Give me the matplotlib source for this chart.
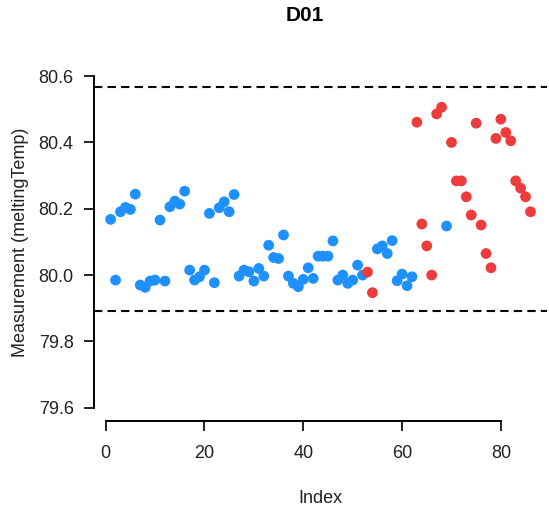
import matplotlib
matplotlib.use('Agg')
from matplotlib import pyplot as plt
import numpy as np

plt.rcParams['font.family'] = ['Liberation Sans', 'DejaVu Sans']

# melting temperature per run, in run order
melt_temp = [
    80.168, 79.985, 80.191, 80.204, 80.198, 80.244, 79.970, 79.963, 79.982, 79.985,
    80.166, 79.982, 80.206, 80.223, 80.214, 80.253, 80.015, 79.985, 79.995, 80.015,
    80.186, 79.977, 80.203, 80.221, 80.191, 80.243, 79.997, 80.015, 80.010, 79.982,
    80.020, 79.997, 80.090, 80.053, 80.050, 80.121, 79.997, 79.975, 79.965, 79.987,
    80.022, 79.990, 80.057, 80.057, 80.057, 80.103, 79.985, 80.000, 79.975, 79.985,
    80.030, 80.000, 80.009, 79.947, 80.079, 80.088, 80.065, 80.104, 79.983, 80.003,
    79.968, 79.995, 80.461, 80.154, 80.088, 80.000, 80.486, 80.506, 80.148, 80.400,
    80.284, 80.284, 80.236, 80.181, 80.458, 80.151, 80.065, 80.022, 80.412, 80.470,
    80.430, 80.405, 80.284, 80.262, 80.236, 80.191,
]
# runs flagged by the rule check (1-based index)
flagged = [53, 54, 63, 64, 65, 66, 67, 68] + list(range(70, 87))
upper_limit = 80.566
lower_limit = 79.891

idx = np.arange(1, len(melt_temp) + 1)
vals = np.array(melt_temp)
cols = np.where(np.isin(idx, flagged), '#ee3b3b', '#1e90ff')

fig = plt.figure(figsize=(5.49, 5.15), dpi=100)
ax = fig.add_axes([0.1709, 0.1825, 0.826, 0.6955])

ax.axhline(upper_limit, color='black', lw=1.5, ls=(0, (4, 2.5)))
ax.axhline(lower_limit, color='black', lw=1.5, ls=(0, (4, 2.5)))
ax.scatter(idx, vals, s=60, c=cols, linewidths=0, zorder=3)

ax.set_xlim(-2.4, 89.4)
ax.set_ylim(79.56, 80.64)
ax.set_xticks([0, 20, 40, 60, 80])
ax.set_yticks([79.6, 79.8, 80.0, 80.2, 80.4, 80.6])
ax.set_yticklabels(['79.6', '79.8', '80.0', '80.2', '80.4', '80.6'])

for s in ['top', 'right']:
    ax.spines[s].set_visible(False)
ax.spines['left'].set_bounds(79.6, 80.6)
ax.spines['bottom'].set_bounds(0, 80)
for s in ['left', 'bottom']:
    ax.spines[s].set_linewidth(1.4)
ax.tick_params(axis='both', length=7.5, width=1.4, labelsize=13, colors='#222222')
ax.tick_params(axis='y', pad=7)
ax.tick_params(axis='x', pad=10)

ax.set_xlabel('Index', fontsize=13, labelpad=20, color='#222222')
ax.set_ylabel('Measurement (meltingTemp)', fontsize=13, labelpad=7, color='#222222')
fig.text(0.555, 0.97, 'D01', ha='center', va='center', fontsize=15, fontweight='bold')

plt.savefig('out.png', dpi=100)
